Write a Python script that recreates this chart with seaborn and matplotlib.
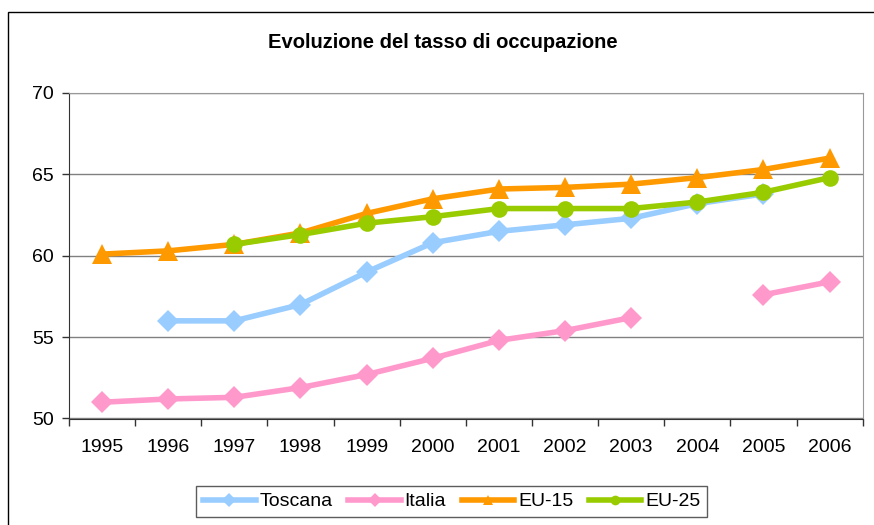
import matplotlib
matplotlib.use('Agg')
import matplotlib.pyplot as plt
import matplotlib.patches as mpatches
import numpy as np
import pandas as pd
import seaborn as sns

# data
years = ['1995', '1996', '1997', '1998', '1999', '2000',
         '2001', '2002', '2003', '2004', '2005', '2006']
toscana = [np.nan, 56.0, 56.0, 57.0, 59.0, 60.8, 61.5, 61.9, 62.3, 63.2, 63.8, np.nan]
italia = [51.0, 51.2, 51.3, 51.9, 52.7, 53.7, 54.8, 55.4, 56.2, np.nan, 57.6, 58.4]
eu15 = [60.1, 60.3, 60.7, 61.4, 62.6, 63.5, 64.1, 64.2, 64.4, 64.8, 65.3, 66.0]
eu25 = [np.nan, np.nan, 60.7, 61.3, 62.0, 62.4, 62.9, 62.9, 62.9, 63.3, 63.9, 64.8]

series = [
    ('Toscana', toscana, '#99CCFF', 'D', 11),
    ('Italia', italia, '#FF99CC', 'D', 11),
    ('EU-15', eu15, '#FF9900', '^', 14),
    ('EU-25', eu25, '#99CC00', 'o', 12),
]

plt.rcParams['font.family'] = ['Liberation Sans', 'DejaVu Sans']

fig = plt.figure(figsize=(8.74, 5.25), dpi=100)
ax = fig.add_axes([69 / 874, 1 - 418.5 / 525, (862.7 - 69) / 874, (418.5 - 93) / 525])

pos = np.arange(len(years))
handles = []
for name, vals, color, marker, ms in series:
    df = pd.DataFrame({'x': pos, 'y': vals})
    # break the line where a value is missing
    df['run'] = df['y'].isna().cumsum()
    df = df.dropna()
    for _, part in df.groupby('run'):
        sns.lineplot(data=part, x='x', y='y', ax=ax, color=color, lw=4,
                     marker=marker, markersize=ms, markeredgewidth=0,
                     legend=False, zorder=3)
    handles.append(plt.Line2D([], [], color=color, lw=4, marker=marker,
                              markersize=7, markeredgewidth=0, label=name))

ax.set_xlim(-0.5, len(years) - 0.5)
ax.set_ylim(50, 70)
ax.set_yticks([50, 55, 60, 65, 70])
ax.set_xticks(pos)
ax.set_xticklabels(years)
ax.set_xticks(np.arange(-0.5, len(years)), minor=True)
ax.tick_params(axis='x', which='major', length=0, pad=15, labelsize=14)
ax.tick_params(axis='x', which='minor', length=5, width=1, color='#333333')
ax.tick_params(axis='y', length=5, width=1, color='#333333', pad=6, labelsize=14)
ax.set_xlabel('')
ax.set_ylabel('')
ax.grid(axis='y', color='#808080', lw=1)
ax.set_axisbelow(True)
for side in ['left', 'bottom']:
    ax.spines[side].set_color('#333333')
for side in ['top', 'right']:
    ax.spines[side].set_color('#999999')

fig.text(0.507, 1 - 42 / 525, 'Evoluzione del tasso di occupazione',
         ha='center', va='center', fontsize=14.5, fontweight='bold')

leg = fig.legend(handles=handles, loc='upper center', ncol=4,
                 bbox_to_anchor=(0.517, 1 - 486 / 525), fontsize=14,
                 frameon=True, fancybox=False, edgecolor='#333333',
                 handlelength=2.7, handletextpad=0.2, columnspacing=0.8,
                 borderpad=0.35, borderaxespad=0)
leg.get_frame().set_linewidth(1)

# outer chart border (cropped on the right and bottom in the reference)
fig.patches.append(mpatches.Rectangle((8 / 874, -0.1), 2, 1 - 12 / 525 + 0.1,
                                      transform=fig.transFigure, fill=False,
                                      edgecolor='black', lw=1))

fig.savefig('out.png', dpi=100)
